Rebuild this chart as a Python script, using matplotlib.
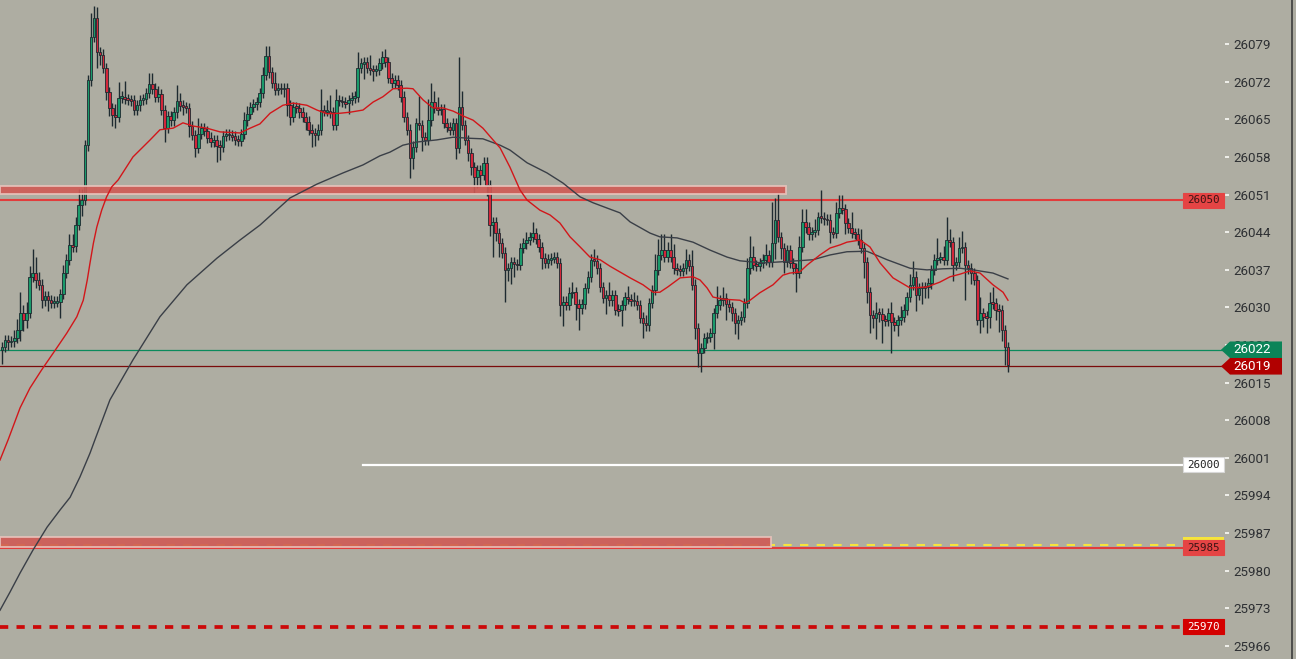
import numpy as np
import matplotlib.pyplot as plt
from matplotlib.patches import Rectangle, Polygon
from matplotlib.lines import Line2D

W, H = 1296, 659
Y_TOP, Y_BOT = 26087.26, 25963.55
AX_W = 1225  # px width of plotting area

# ---- candles (close of every bar, open = previous close) ----
first_open = 26021.5
closes = [
    26022.1, 26023.4, 26023.1, 26023.2, 26023.8, 26025.3, 26028.5, 26027.2, 26028.5, 26035.3,
    26036.0, 26034.7, 26033.8, 26030.9, 26031.7, 26030.9, 26030.4, 26030.6, 26030.6, 26032.1,
    26036.0, 26038.5, 26041.3, 26041.0, 26045.0, 26048.8, 26049.7, 26060.0, 26072.2, 26080.3,
    26083.9, 26077.5, 26077.0, 26074.5, 26070.0, 26067.0, 26065.7, 26065.3, 26068.9, 26069.1,
    26068.7, 26068.5, 26068.4, 26066.6, 26067.5, 26068.5, 26068.7, 26069.8, 26071.5, 26070.6,
    26069.1, 26069.6, 26066.6, 26063.2, 26065.5, 26064.7, 26066.2, 26068.3, 26067.4, 26067.2,
    26067.0, 26063.6, 26061.9, 26059.5, 26062.1, 26063.2, 26062.7, 26061.4, 26060.6, 26061.0,
    26059.9, 26059.7, 26061.7, 26062.1, 26061.9, 26061.7, 26061.0, 26060.8, 26062.1, 26064.7,
    26065.9, 26067.2, 26067.7, 26068.1, 26069.8, 26073.2, 26076.7, 26073.7, 26071.7, 26070.4,
    26070.7, 26070.6, 26070.7, 26067.5, 26065.3, 26067.2, 26067.0, 26066.2, 26065.3, 26064.4,
    26062.9, 26062.3, 26061.9, 26062.9, 26066.6, 26066.4, 26066.4, 26066.2, 26063.8, 26068.5,
    26068.3, 26068.1, 26067.9, 26068.5, 26068.9, 26069.1, 26074.5, 26075.4, 26075.6, 26074.5,
    26074.1, 26074.0, 26074.1, 26075.4, 26076.6, 26075.6, 26072.6, 26071.7, 26072.2, 26071.3,
    26069.1, 26065.3, 26062.9, 26057.6, 26059.7, 26064.2, 26063.8, 26061.5, 26061.0, 26064.7,
    26068.1, 26067.0, 26066.6, 26066.8, 26064.2, 26063.4, 26062.9, 26064.2, 26059.5, 26067.2,
    26063.8, 26061.0, 26058.5, 26055.9, 26054.0, 26055.3, 26054.4, 26056.7, 26052.5, 26045.0,
    26045.6, 26043.5, 26041.6, 26039.8, 26036.6, 26036.9, 26038.1, 26037.7, 26037.5, 26040.7,
    26041.6, 26042.2, 26042.8, 26043.5, 26042.4, 26040.9, 26038.8, 26037.9, 26038.6, 26038.8,
    26039.0, 26037.9, 26030.0, 26030.6, 26030.0, 26032.3, 26032.4, 26030.2, 26029.4, 26030.2,
    26033.2, 26035.3, 26038.5, 26038.3, 26036.9, 26033.4, 26031.3, 26031.9, 26030.9, 26031.9,
    26029.1, 26029.0, 26030.0, 26031.5, 26031.1, 26030.9, 26030.8, 26030.0, 26027.6, 26026.6,
    26026.2, 26030.4, 26032.8, 26036.6, 26039.4, 26040.3, 26039.0, 26040.3, 26039.0, 26036.9,
    26036.6, 26036.4, 26036.9, 26038.5, 26037.3, 26033.8, 26025.7, 26021.0, 26021.9, 26023.8,
    26024.0, 26024.7, 26028.5, 26030.0, 26030.9, 26031.3, 26030.2, 26029.6, 26028.5, 26026.6,
    26027.2, 26027.8, 26030.4, 26036.9, 26039.0, 26037.5, 26037.4, 26037.9, 26038.5, 26039.4,
    26038.1, 26041.6, 26046.0, 26042.8, 26040.7, 26038.1, 26040.3, 26037.9, 26036.9, 26036.0,
    26040.9, 26045.6, 26044.6, 26043.3, 26043.7, 26044.1, 26046.5, 26046.4, 26046.1, 26046.0,
    26043.7, 26043.5, 26047.3, 26048.2, 26048.0, 26045.4, 26044.5, 26043.5, 26043.4, 26042.2,
    26040.7, 26038.1, 26032.4, 26028.1, 26027.6, 26028.5, 26028.4, 26027.2, 26027.1, 26028.5,
    26026.8, 26026.2, 26027.2, 26027.8, 26029.1, 26031.5, 26033.8, 26035.3, 26031.9, 26033.2,
    26033.4, 26033.3, 26034.1, 26036.6, 26038.5, 26038.8, 26039.0, 26038.5, 26042.2, 26041.8,
    26037.5, 26038.1, 26040.7, 26040.9, 26037.5, 26036.9, 26036.0, 26034.7, 26027.2, 26028.5,
    26027.8, 26027.7, 26030.4, 26030.3, 26029.1, 26029.0, 26025.3, 26022.1, 26018.7,
]
# wick length above / below the body
wick_up = [
    1, 1, 1, 1, 1.5, 2, 4, 1.5, 2, 2,
    4.5, 3, 1.5, 1, 1, 1, 1, 1, 1, 1,
    1.5, 1, 2, 2, 1.5, 3, 2, 1, 1, 4.5,
    2.2, 2, 1, 1, 1, 1, 1, 2, 3, 1,
    3, 1, 1, 1, 1, 1, 1, 1, 2, 2,
    1, 1.5, 1, 1, 1, 1, 1, 3, 1.5, 1,
    1, 1, 1, 1, 3, 1, 1, 1, 1, 1,
    1, 1, 1, 1, 1, 1, 1, 1, 1, 1.5,
    1.5, 1, 1, 1, 1, 1.5, 2, 2, 1, 2,
    1, 1, 1, 1, 1, 1, 1, 1, 1, 1,
    1, 1, 1, 1, 4, 1, 2, 3, 1, 2,
    1, 1, 1, 1, 1, 1, 3, 1, 1, 1,
    2.5, 1, 1, 1, 1, 1.5, 1, 1, 1, 1,
    1, 1, 1, 1, 1, 1, 5, 1, 1, 4,
    3.5, 2, 2, 1, 1, 1, 1, 1, 1, 9.4,
    3, 1, 1, 1, 1, 1, 1, 1, 1, 1,
    1, 1, 1, 1, 1, 1, 1, 1, 1, 1,
    1, 1.5, 1, 2, 1, 1, 1, 1, 1, 1,
    1, 1, 1, 1, 1, 1, 2, 1, 1, 1,
    1, 1, 1, 2, 1, 1, 1, 1, 2.5, 1,
    1, 1, 1, 1, 2, 1, 1.5, 1, 1, 1,
    1.5, 1, 1, 3, 3, 3, 3, 1.5, 3, 2.5,
    1, 1, 1, 2, 1, 3, 1, 1, 1, 1,
    1, 1, 1, 3.5, 1, 2, 1, 1, 1, 1,
    1, 1, 1, 2, 4, 2, 1, 1, 1, 2,
    1, 7.7, 4, 5, 1, 1, 1, 1, 1, 1,
    2, 2.5, 2.5, 1, 1, 2, 1, 5, 1, 1,
    1, 1, 2, 2.4, 2.4, 1, 1, 3, 1, 1,
    2, 1, 1, 1, 1, 2, 1, 1, 1, 1,
    2, 1, 1, 2, 1, 1, 2, 3, 1, 1,
    1, 1, 1, 1, 1, 3.7, 1, 2, 4.3, 2,
    1, 1, 2, 3, 1, 1, 1, 1, 1, 3,
    1, 1, 2, 3, 1, 1, 1, 1, 1,
]
wick_dn = [
    2.5, 1, 1.5, 1, 1, 1, 2, 2, 1.5, 1,
    1, 1.5, 1, 1.5, 1, 2, 1, 1, 1, 3,
    1, 1, 1, 1, 1, 1, 2, 1, 1, 1,
    1, 3, 2, 1, 1.5, 1.5, 2, 2, 1, 1,
    1, 1, 1, 1, 1, 1, 1, 1, 1, 1,
    1, 1, 1, 2.6, 1, 1, 1, 1, 1, 1.5,
    1, 2, 1, 1.7, 1, 1, 1, 1, 1, 1,
    3, 2.5, 1, 1, 1, 1, 1, 1, 1, 1,
    1, 1, 1, 1, 1, 1, 1, 1, 1, 1,
    1, 1, 1.5, 2, 1.5, 1, 1, 1, 1, 1.5,
    1, 2.6, 2, 1, 1, 1, 1, 1, 1, 1,
    1, 1, 1, 2, 1, 1, 1, 1, 3, 1,
    1, 2, 1, 1, 1, 1, 1, 1, 1, 1,
    1, 1, 1, 3.7, 2, 1, 1, 2.5, 1, 1,
    1, 1, 1, 1, 1, 1, 1, 1, 2, 1,
    1, 1, 1.5, 1.5, 3, 2, 2, 1, 2, 2,
    6, 1.5, 2.5, 1, 6, 2, 3, 2.5, 1, 1,
    1, 1, 1, 1, 1, 1, 2, 1, 1, 1,
    1, 1, 2, 4, 1, 1, 1, 3, 4, 1,
    1, 1, 1, 1, 1, 1, 1, 3, 1, 1,
    1, 1, 3, 1, 1, 1, 1, 1, 1, 2.8,
    1, 1, 1, 1, 1, 1, 1, 1, 1, 1,
    1, 1, 1, 1, 1, 1, 2, 2.6, 3.5, 1,
    1, 1, 3, 1, 1, 1, 3, 1, 1.5, 2,
    3, 1, 1, 1, 1, 1, 1, 1, 1, 1,
    1, 1, 3, 1, 2, 2, 1, 1, 1, 3.5,
    1, 1, 1, 1, 1, 1, 1, 1, 1, 1,
    2, 1, 1, 1, 1, 2, 1, 1, 1, 1,
    1, 3, 2, 3.4, 2, 4, 1.5, 4.3, 1, 1,
    5.8, 1, 2, 1, 1, 1, 1, 1, 3, 1,
    3, 2, 2, 1, 1, 1, 1, 1, 1, 1,
    3, 1, 1, 1, 6.5, 1, 2, 1, 1, 2.5,
    2, 3, 2, 1, 2, 4, 2, 3.4, 1.3,
]

# ---- moving averages (bar index, price) ----
ma_fast_x = [-0.65, 2.0, 5.9, 9.1, 12.9, 17.8, 21.1, 24.4, 26.5, 27.8, 28.7, 29.8, 30.9, 32.5,
             34.1, 35.8, 37.9, 42.7, 48.3, 51.5,
             55.8, 59.0, 62.3, 66.8, 71.1, 77.6, 80.9, 84.1, 87.4, 91.6, 94.9, 99.4, 102.7,
             106.0, 110.2, 113.5, 117.7, 121.0, 124.2, 127.5, 132.0, 134.0, 137.3, 140.5, 143.8,
             147.1, 150.3, 153.6, 156.8, 160.1, 162.4, 165.6, 168.9, 171.2, 175.4, 178.7, 181.9,
             185.2, 188.5, 191.7, 195.0, 198.2, 201.5, 204.8, 209.0, 212.3, 214.5, 217.1, 221.1,
             225.3, 227.6, 229.9, 231.8, 235.1, 240.6, 242.3, 243.9, 247.1, 251.4, 254.6, 256.9,
             260.1, 262.5, 266.7, 270.0, 273.3, 275.5, 279.8, 283.0, 286.3, 290.5, 296.1, 301.6,
             305.8, 309.1, 312.4, 315.6, 318.9, 323.1, 326.4, 328.0]
ma_fast = [26000.9, 26004.7, 26010.7, 26014.4, 26017.8, 26021.9, 26024.7, 26027.8, 26030.9,
           26034.7, 26037.9, 26041.6, 26044.6, 26047.8, 26050.3, 26052.2, 26053.5,
           26057.8, 26061.0, 26062.9, 26063.2, 26064.2, 26063.6, 26063.2,
           26062.5, 26062.3, 26063.2, 26064.0, 26066.0, 26067.5, 26067.9, 26067.5, 26066.6,
           26065.9, 26066.0, 26066.2, 26066.6, 26068.1, 26069.1, 26070.6, 26070.7, 26070.6,
           26068.5, 26067.0, 26067.0, 26066.4, 26065.5, 26064.7, 26063.2, 26061.0, 26059.5,
           26055.9, 26051.6, 26049.7, 26047.8, 26046.9, 26045.4, 26042.8, 26040.9, 26039.0,
           26038.5, 26037.3, 26036.2, 26035.1, 26033.8, 26032.4, 26032.4, 26033.4, 26035.1,
           26035.3, 26034.7, 26033.2, 26031.5, 26031.1, 26030.9, 26030.4, 26030.9, 26032.3,
           26033.8, 26035.6, 26036.0, 26036.2, 26037.5, 26039.4, 26040.7, 26041.3, 26041.8,
           26042.2, 26040.9, 26037.9, 26035.1, 26033.2, 26033.4, 26034.3, 26035.3, 26035.8,
           26036.4, 26036.0, 26033.8, 26032.4, 26030.9]
ma_slow_x = [-0.65, 2.6, 5.9, 10.1, 14.7, 18.9, 22.2, 25.4, 28.7, 30.3, 35.2, 42.7, 51.5, 60.3,
             70.1, 77.6, 84.1, 93.9, 102.7, 111.2, 117.7, 123.2, 126.5, 130.7, 135.3, 141.8,
             147.1, 152.6, 156.8, 162.4, 165.6, 171.2, 177.7, 182.9, 188.5, 192.7, 197.3, 201.5,
             204.8, 211.3, 214.5, 220.1, 225.3, 230.9, 236.4, 240.6, 248.1, 253.7, 259.2, 264.4,
             270.0, 275.5, 282.0, 288.6, 296.1, 301.6, 306.8, 312.4, 316.6, 323.1, 328.0]
ma_slow = [25972.7, 25976.1, 25979.7, 25984.0, 25988.3, 25991.5, 25993.9, 25997.7, 26002.2,
           26004.7, 26012.2, 26019.7, 26027.8, 26033.8, 26038.8, 26042.2, 26045.0, 26050.1,
           26052.7, 26054.8, 26056.3, 26058.0, 26058.7, 26060.0, 26060.6, 26061.0, 26061.5,
           26061.3, 26061.2, 26060.0, 26059.1, 26056.7, 26054.8, 26052.9, 26050.3, 26049.2,
           26048.2, 26047.3, 26045.6, 26043.5, 26042.8, 26042.6, 26041.8, 26040.3, 26039.0,
           26038.3, 26037.9, 26038.1, 26038.3, 26038.5, 26039.4, 26040.0, 26040.1, 26038.5,
           26036.9, 26036.6, 26036.8, 26036.9, 26036.6, 26036.0, 26034.9]

# ---- axis ticks ----
tick_pos = [26079.0, 26071.9, 26064.9, 26057.8, 26050.7, 26043.7, 26036.6, 26029.6, 26022.5,
            26015.4, 26008.4, 26001.3, 25994.3, 25987.2, 25980.1, 25973.1, 25966.0]
tick_text = ["26079", "26072", "26065", "26058", "26051", "26044", "26037", "26030", "26023",
             "26015", "26008", "26001", "25994", "25987", "25980", "25973", "25966"]

# ---- levels ----
zone_hi = (26050.8, 26052.3)
zone_lo = (25984.6, 25986.4)
lvl_red, lvl_red_txt = 26049.7, "26050"
lvl_white, lvl_white_txt = 26000.0, "26000"
lvl_yellow = 25985.0
lvl_red2, lvl_red2_txt = 25984.4, "25985"
lvl_dash, lvl_dash_txt = 25969.6, "25970"
ask, ask_txt = 26021.6, "26022"
bid, bid_txt = 26018.5, "26019"

BG = "#aeada2"
EDGE = "#1e2a30"
GREEN = "#1a9a6a"
RED = "#d3263a"

px_unit = (Y_TOP - Y_BOT) / H


def fx(px):
    return px / AX_W


fig = plt.figure(figsize=(W / 100, H / 100), dpi=100, facecolor=BG)
ax = fig.add_axes([0, 0, AX_W / W, 1])
ax.set_facecolor(BG)
ax.set_xlim(-0.65, -0.65 + AX_W / 3.067)
ax.set_ylim(Y_BOT, Y_TOP)
for s in ax.spines.values():
    s.set_visible(False)
ax.set_xticks([])
ax.yaxis.tick_right()
ax.set_yticks(tick_pos)
ax.set_yticklabels(tick_text, fontfamily="Roboto")
ax.tick_params(axis="y", length=3.2, width=1.3, color="#f4f4f0", pad=2.5,
               labelsize=9.6, labelcolor="#2e3033")

ty = ax.get_yaxis_transform()

# candles
c = np.array(closes)
n = len(c)
x = np.arange(n)
o = np.r_[first_open, c[:-1]]
top = np.maximum(o, c)
bot = np.minimum(o, c)
hi = top + np.array(wick_up[:n])
lo = bot - np.array(wick_dn[:n])
ax.vlines(x, lo, hi, color=EDGE, lw=1.0, zorder=3)
h = np.maximum(top - bot, 0.35)
ax.bar(x, h, bottom=(top + bot) / 2 - h / 2, width=0.84,
       color=np.where(c >= o, GREEN, RED), edgecolor=EDGE, linewidth=0.6, zorder=4)

# moving averages
ax.plot(ma_slow_x, ma_slow, color="#3a3f47", lw=1.0, zorder=6)
ax.plot(ma_fast_x, ma_fast, color="#d2161a", lw=1.0, zorder=6)

# level lines
end = fx(1183)
ax.plot([0, end], [lvl_red] * 2, color="#e23c3c", lw=1.5, transform=ty, zorder=2)
ax.plot([fx(363), end], [lvl_white] * 2, color="#ffffff", lw=1.6, transform=ty, zorder=2)
ax.plot([0, end], [lvl_yellow] * 2, color="#f6e43c", lw=1.5, dashes=(4, 4),
        transform=ty, zorder=2)
ax.plot([0, end], [lvl_red2] * 2, color="#e23c3c", lw=1.5, transform=ty, zorder=2)
ax.plot([0, end], [lvl_dash] * 2, color="#cc0808", lw=2.7, dashes=(2.2, 2.2),
        transform=ty, zorder=2)
ax.plot([0, fx(1222)], [ask] * 2, color="#0b8a5c", lw=0.9, transform=ty, zorder=2)
ax.plot([0, fx(1222)], [bid] * 2, color="#7a0a0a", lw=0.9, transform=ty, zorder=2)

# zones
for (z0, z1), xe in ((zone_hi, 786), (zone_lo, 771)):
    ax.add_patch(Rectangle((0, z0), fx(xe), z1 - z0, transform=ty, facecolor="#d05a55",
                           edgecolor="#e9c4bd", lw=1.3, alpha=0.9, zorder=5))


# price tags on the right
def tag(val, txt, fc, tc, ec=None):
    hh = 7.5 * px_unit
    ax.add_patch(Rectangle((fx(1183), val - hh), fx(1224) - fx(1183), 2 * hh, transform=ty,
                           facecolor=fc, edgecolor=ec or fc, lw=0.8, zorder=8, clip_on=False))
    ax.text(fx(1203.5), val, txt, transform=ty, ha="center", va="center", fontsize=7.8,
            color=tc, fontfamily="DejaVu Sans Mono", zorder=9, clip_on=False)


tag(lvl_red, lvl_red_txt, "#e54444", "#3a1414")
tag(lvl_white, lvl_white_txt, "#ffffff", "#222222", "#d8d8d8")
ax.add_patch(Rectangle((fx(1183), lvl_red2 + 7.5 * px_unit), fx(1224) - fx(1183), 3 * px_unit,
                       transform=ty, facecolor="#f6e43c", lw=0, zorder=8, clip_on=False))
tag(lvl_red2, lvl_red2_txt, "#e54444", "#3a1414")
tag(lvl_dash, lvl_dash_txt, "#d40000", "#ffffff")


def arrow_tag(val, txt, fc):
    hh = 8.3 * px_unit
    pts = [(fx(1221), val), (fx(1230), val + hh), (fx(1282), val + hh),
           (fx(1282), val - hh), (fx(1230), val - hh)]
    ax.add_patch(Polygon(pts, closed=True, transform=ty, facecolor=fc, lw=0,
                         zorder=10, clip_on=False))
    ax.text(fx(1233), val, txt, transform=ty, ha="left", va="center", fontsize=9.6,
            color="white", fontfamily="Roboto", zorder=11, clip_on=False)


arrow_tag(ask, ask_txt, "#0b8458")
arrow_tag(bid, bid_txt, "#b10000")

fig.add_artist(Line2D([1291.5 / W] * 2, [0, 1], color="#3d3d3d", lw=1.2))

fig.savefig("out.png", dpi=100, facecolor=BG)
